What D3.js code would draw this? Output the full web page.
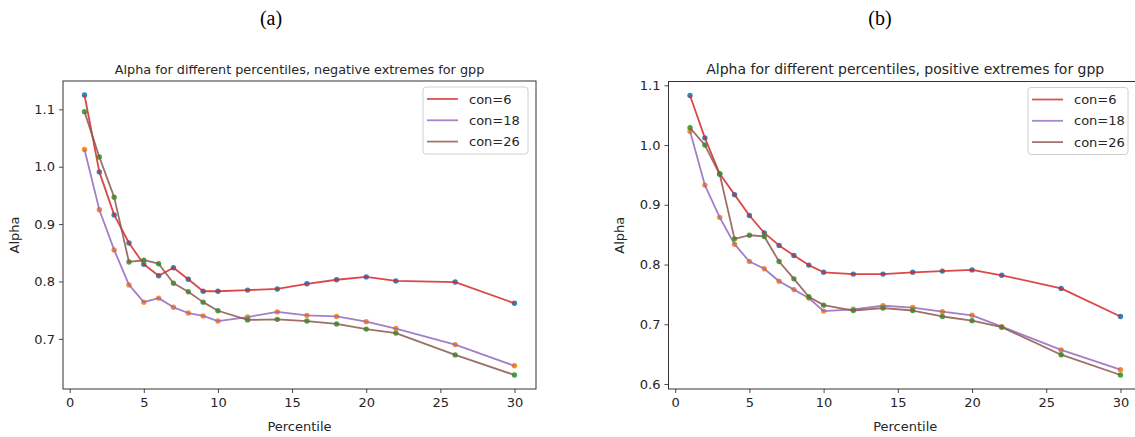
<!DOCTYPE html>
<html>
<head>
<meta charset="utf-8">
<script src="https://cdn.jsdelivr.net/npm/d3@7/dist/d3.min.js"></script>
<style>
  html, body { margin: 0; padding: 0; background: #fff; }
  svg { display: block; }
  text { font-family: "DejaVu Sans", sans-serif; fill: #262626; }
</style>
</head>
<body>
<svg id="chart" width="1135" height="437"></svg>
<script>
// ---------- data ----------
const percentiles = [1, 2, 3, 4, 5, 6, 7, 8, 9, 10, 12, 14, 16, 18, 20, 22, 26, 30];
const seriesNames = ["con=6", "con=18", "con=26"];

// (a) negative extremes
const negCon6  = [1.125, 0.991, 0.916, 0.867, 0.830, 0.810, 0.824, 0.804, 0.783, 0.783, 0.785, 0.787, 0.796, 0.803, 0.808, 0.801, 0.799, 0.762];
const negCon18 = [1.030, 0.925, 0.855, 0.794, 0.764, 0.771, 0.755, 0.745, 0.740, 0.731, 0.738, 0.747, 0.741, 0.739, 0.730, 0.718, 0.690, 0.653];
const negCon26 = [1.096, 1.017, 0.947, 0.834, 0.837, 0.831, 0.797, 0.782, 0.764, 0.749, 0.733, 0.734, 0.731, 0.726, 0.717, 0.710, 0.672, 0.637];

// (b) positive extremes
const posCon6  = [1.083, 1.012, 0.952, 0.917, 0.882, 0.853, 0.832, 0.815, 0.799, 0.787, 0.784, 0.784, 0.787, 0.789, 0.791, 0.782, 0.760, 0.713];
const posCon18 = [1.023, 0.933, 0.879, 0.834, 0.805, 0.793, 0.772, 0.758, 0.744, 0.722, 0.725, 0.731, 0.728, 0.721, 0.715, 0.696, 0.657, 0.624];
const posCon26 = [1.029, 1.000, 0.951, 0.843, 0.849, 0.847, 0.805, 0.776, 0.746, 0.732, 0.723, 0.727, 0.723, 0.713, 0.706, 0.695, 0.649, 0.615];

const xTicks = [0, 5, 10, 15, 20, 25, 30];
const yTicksNeg = [0.7, 0.8, 0.9, 1.0, 1.1];
const yTicksPos = [0.6, 0.7, 0.8, 0.9, 1.0, 1.1];

const titleNeg = "Alpha for different percentiles, negative extremes for gpp";
const titlePos = "Alpha for different percentiles, positive extremes for gpp";
const captions = ["(a)", "(b)"];
const xLabel = "Percentile";
const yLabel = "Alpha";

// ---------- styles ----------
const lineColors  = ["#d62728", "#9467bd", "#8c564b"];
const pointColors = ["#1f77b4", "#ff7f0e", "#2ca02c"];

const svg = d3.select("#chart");
svg.append("rect").attr("width", 1135).attr("height", 437).attr("fill", "#fff");

function padDomain(ext) {
  const p = (ext[1] - ext[0]) * 0.05;
  return [ext[0] - p, ext[1] + p];
}

function drawPanel(cfg) {
  const { left, right, top, bottom } = cfg;
  const allY = cfg.series.flat();
  const x = d3.scaleLinear().domain(padDomain(d3.extent(percentiles))).range([left, right]);
  const y = d3.scaleLinear().domain(padDomain(d3.extent(allY))).range([bottom, top]);

  const g = svg.append("g");

  // caption
  g.append("text").attr("x", cfg.captionX).attr("y", 25)
    .attr("text-anchor", "middle")
    .style("font-family", "'Liberation Serif', 'Times New Roman', serif")
    .style("font-size", "20px").style("fill", "#000")
    .text(cfg.caption);

  // title
  g.append("text").attr("x", (left + right) / 2).attr("y", 74)
    .attr("text-anchor", "middle").style("font-size", cfg.titleSize)
    .text(cfg.title);

  // clip
  const clipId = "clip" + cfg.caption.replace(/\W/g, "");
  svg.append("clipPath").attr("id", clipId).append("rect")
    .attr("x", left).attr("y", top).attr("width", right - left).attr("height", bottom - top);

  const plot = g.append("g").attr("clip-path", `url(#${clipId})`);
  cfg.series.forEach((vals, i) => {
    const pts = percentiles.map((p, k) => [p, vals[k]]);
    plot.append("g").selectAll("circle").data(pts).enter().append("circle")
      .attr("cx", d => x(d[0])).attr("cy", d => y(d[1])).attr("r", 2.7)
      .attr("fill", pointColors[i]).attr("opacity", 0.9);
    plot.append("path").datum(pts)
      .attr("d", d3.line().x(d => x(d[0])).y(d => y(d[1])))
      .attr("fill", "none").attr("stroke", lineColors[i]).attr("stroke-width", 1.8)
      .attr("stroke-opacity", 0.85).attr("stroke-linejoin", "round");
  });

  // axes
  const xAxis = d3.axisBottom(x).tickValues(xTicks).tickFormat(d3.format("d"))
    .tickSize(4).tickPadding(5);
  const yAxis = d3.axisLeft(y).tickValues(cfg.yTicks).tickFormat(d3.format(".1f"))
    .tickSize(4).tickPadding(4);

  const gx = g.append("g").attr("transform", `translate(0,${bottom})`).call(xAxis);
  const gy = g.append("g").attr("transform", `translate(${left},0)`).call(yAxis);
  [gx, gy].forEach(a => {
    a.select(".domain").remove();
    a.selectAll(".tick line").attr("stroke", "#333").attr("stroke-width", 0.9);
    a.selectAll(".tick text").style("font-family", "'DejaVu Sans', sans-serif")
      .style("font-size", "13px").style("fill", "#262626");
  });

  // frame
  g.append("rect").attr("x", left).attr("y", top)
    .attr("width", right - left).attr("height", bottom - top)
    .attr("fill", "none").attr("stroke", "#333").attr("stroke-width", 1);

  // axis labels
  g.append("text").attr("x", (left + right) / 2).attr("y", bottom + 42)
    .attr("text-anchor", "middle").style("font-size", "13px").text(xLabel);
  g.append("text")
    .attr("transform", `translate(${cfg.yLabelX},${(top + bottom) / 2}) rotate(-90)`)
    .attr("text-anchor", "middle").style("font-size", "13px").text(yLabel);

  // legend
  const lg = g.append("g").attr("transform", `translate(${cfg.legendX},${top + 6})`);
  lg.append("rect").attr("x", 0).attr("y", 0).attr("width", cfg.legendW).attr("height", 67)
    .attr("rx", 3).attr("fill", "#fff").attr("fill-opacity", 0.8)
    .attr("stroke", "#d0d0d0").attr("stroke-width", 1);
  seriesNames.forEach((name, i) => {
    const yy = 12 + i * 21.3;
    lg.append("line").attr("x1", 4).attr("x2", 35).attr("y1", yy).attr("y2", yy)
      .attr("stroke", lineColors[i]).attr("stroke-width", 1.8).attr("stroke-opacity", 0.8);
    lg.append("text").attr("x", 46).attr("y", yy + 4.5).style("font-size", "13px").text(name);
  });
}

drawPanel({
  left: 63, right: 536, top: 81, bottom: 389,
  series: [negCon6, negCon18, negCon26], yTicks: yTicksNeg,
  title: titleNeg, titleSize: "12.8px", caption: captions[0], captionX: 271,
  yLabelX: 19, legendX: 423, legendW: 105
});
drawPanel({
  left: 668.5, right: 1142, top: 81.5, bottom: 389,
  series: [posCon6, posCon18, posCon26], yTicks: yTicksPos,
  title: titlePos, titleSize: "14px", caption: captions[1], captionX: 880,
  yLabelX: 624, legendX: 1028, legendW: 100
});
</script>
</body>
</html>
